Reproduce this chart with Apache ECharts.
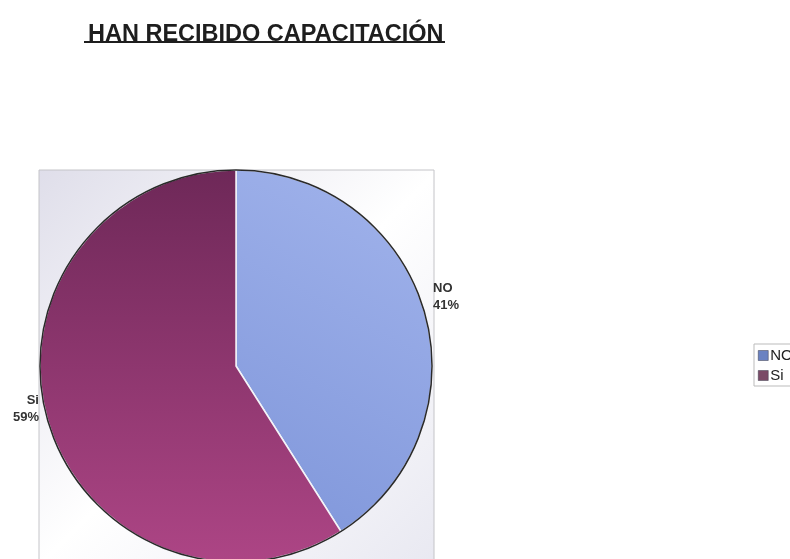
<!DOCTYPE html>
<html>
<head>
	<meta charset="utf-8">
	<title>Han recibido capacitación</title>
	<script src="https://cdn.jsdelivr.net/npm/echarts@6/dist/echarts.min.js"></script>
	<style>
		html, body { margin: 0; padding: 0; background: #fff; }
		#main { width: 790px; height: 559px; }
	</style>
</head>
<body>
	<div id="main"></div>
	<script type="text/javascript">
		// datos
		var categorias = ['NO', 'Si'];
		var porcentajes = [41, 59];

		var colores = [
			new echarts.graphic.LinearGradient(1, 0, 0, 1, [
				{ offset: 0, color: '#a2b4ec' },
				{ offset: 1, color: '#7f96da' }
			]),
			new echarts.graphic.LinearGradient(0, 0, 0, 1, [
				{ offset: 0, color: '#6e2858' },
				{ offset: 1, color: '#ad4585' }
			])
		];
		var coloresLeyenda = ['#6a82c2', '#7a4a66'];

		var datos = [];
		var leyenda = [];
		for (var i = 0; i < categorias.length; i++) {
			datos.push({
				name: categorias[i],
				value: porcentajes[i],
				itemStyle: { color: colores[i] }
			});
			leyenda.push({
				name: categorias[i],
				itemStyle: { color: coloresLeyenda[i], borderColor: '#3a3a4a', borderWidth: 0.5 }
			});
		}

		var cx = 236, cy = 366, r = 196;

		var myChart = echarts.init(document.getElementById('main'));
		var option = {
			animation: false,
			title: {
				text: 'HAN RECIBIDO CAPACITACIÓN',
				left: 83,
				top: 18,
				textStyle: {
					fontFamily: 'Liberation Sans, Arial',
					fontSize: 23.5,
					fontWeight: 'bold',
					color: '#1e1e1e'
				}
			},
			legend: {
				orient: 'vertical',
				left: 754,
				top: 344,
				data: leyenda,
				itemWidth: 10,
				itemHeight: 10,
				itemGap: 5,
				icon: 'rect',
				padding: [4, 6, 3, 4],
				borderColor: '#bbb',
				borderWidth: 1,
				textStyle: {
					fontFamily: 'Liberation Sans, Arial',
					fontSize: 15,
					color: '#222',
					padding: [0, 0, 0, -3]
				}
			},
			graphic: [
				{
					type: 'rect',
					z: -10,
					shape: { x: 39, y: 170, width: 395, height: 400 },
					style: {
						fill: new echarts.graphic.LinearGradient(0, 0, 1, 1, [
							{ offset: 0, color: '#dfdeea' },
							{ offset: 0.5, color: '#ffffff' },
							{ offset: 1, color: '#e8e8f1' }
						]),
						stroke: '#c4c4c8',
						lineWidth: 1
					}
				},
				{
					type: 'rect',
					shape: { x: 84, y: 41, width: 361, height: 2 },
					style: { fill: '#1e1e1e' }
				},
				{
					type: 'circle',
					z: 100,
					shape: { cx: cx, cy: cy, r: r },
					style: { fill: 'none', stroke: '#2a2a2a', lineWidth: 1.5 }
				}
			],
			series: [
				{
					name: 'Capacitación',
					type: 'pie',
					center: [cx, cy],
					radius: r,
					startAngle: 90,
					clockwise: true,
					data: datos,
					itemStyle: {
						borderColor: '#f4f4f8',
						borderWidth: 1.5
					},
					label: {
						show: true,
						position: 'outside',
						formatter: '{b}\n{d}%',
						fontFamily: 'Liberation Sans, Arial',
						fontSize: 13,
						fontWeight: 'bold',
						color: '#333',
						lineHeight: 17,
						offset: [0, -13]
					},
					labelLine: { show: false, length: 4, length2: 0 }
				}
			]
		};
		myChart.setOption(option);
	</script>
</body>
</html>
